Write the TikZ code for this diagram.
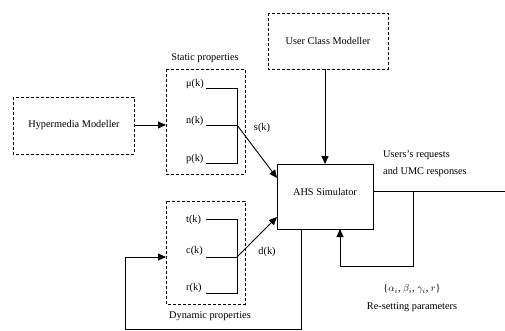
\documentclass[tikz,border=0pt]{standalone}
\usepackage{fontspec}
\setmainfont{Liberation Serif}
\usetikzlibrary{arrows.meta}
\begin{document}
\begin{tikzpicture}[x=1pt,y=-1pt,
  every node/.style={font=\fontsize{10.3}{12}\selectfont, inner sep=0pt},
  dbox/.style={draw, densely dashed, line width=0.9pt},
  sbox/.style={draw, line width=0.9pt},
  wire/.style={line width=0.9pt},
  arr/.style={wire, -{Triangle[length=8pt,width=7pt]}},
  lbl/.style={anchor=west}]
\useasboundingbox (0,0) rectangle (505,331);

% modeller boxes
\draw[dbox] (13,97) rectangle (134,154);
\node (hm) at (74,125.5) {Hypermedia Modeller};
\coordinate (hmR) at (134,125);
\draw[dbox] (268,13) rectangle (388,69);
\node (ucm) at (328,41) {User Class Modeller};
\coordinate (ucmB) at (325,69);

% static properties
\draw[dbox] (166,69) rectangle (245,174);
\coordinate (stL) at (166,125);
\node (stT) at (205,58) {Static properties};
\node[lbl] (mu) at (186,84) {μ(k)};
\node[lbl] (n) at (186,121) {n(k)};
\node[lbl] (p) at (186,159) {p(k)};
\coordinate (sj) at (237,125);
\draw[wire] (206,88) -- (237,88) -- (237,163) -- (206,163);
\draw[wire] (206,125) -- (sj);
\node (sk) at (262,128) {s(k)};

% dynamic properties
\draw[dbox] (166,201) rectangle (245,304);
\coordinate (dyL) at (166,257);
\node (dyT) at (210,316) {Dynamic properties};
\node[lbl] (t) at (186,220) {t(k)};
\node[lbl] (c) at (186,251) {c(k)};
\node[lbl] (r) at (186,288) {r(k)};
\coordinate (dj) at (237,257);
\draw[wire] (206,219) -- (237,219) -- (237,293) -- (206,293);
\draw[wire] (206,257) -- (dj);
\node (dk) at (267,252) {d(k)};

% simulator
\draw[sbox] (277,164) rectangle (373,229);
\node (ahs) at (325,192) {AHS Simulator};
\coordinate (ahsS) at (277,178);
\coordinate (ahsD) at (277,217);
\coordinate (ahsT) at (325,164);
\coordinate (ahsR) at (373,191);
\coordinate (ahsB1) at (301,229);
\coordinate (ahsB2) at (340,229);

% connectors
\draw[arr] (hmR) -- (stL);
\draw[arr] (ucmB) -- (ahsT);
\draw[arr] (sj) -- (ahsS);
\draw[arr] (dj) -- (ahsD);
\coordinate (outE) at (505,191);
\draw[wire] (ahsR) -- (outE);
\draw[arr] (413,191) -- (413,266) -- (340,266) -- (ahsB2);
\draw[arr] (ahsB1) -- (301,329.5) -- (125,329.5) -- (125,257) -- (dyL);

% labels
\node[lbl] (req) at (383,155) {Users's requests};
\node[lbl] (umc) at (383,172) {and UMC responses};
\node (par) at (412,289) {\{$\alpha_i$, $\beta_i$, $\gamma_i$, $r$\}};
\node (rs) at (412,307) {Re-setting parameters};
\end{tikzpicture}
\end{document}
